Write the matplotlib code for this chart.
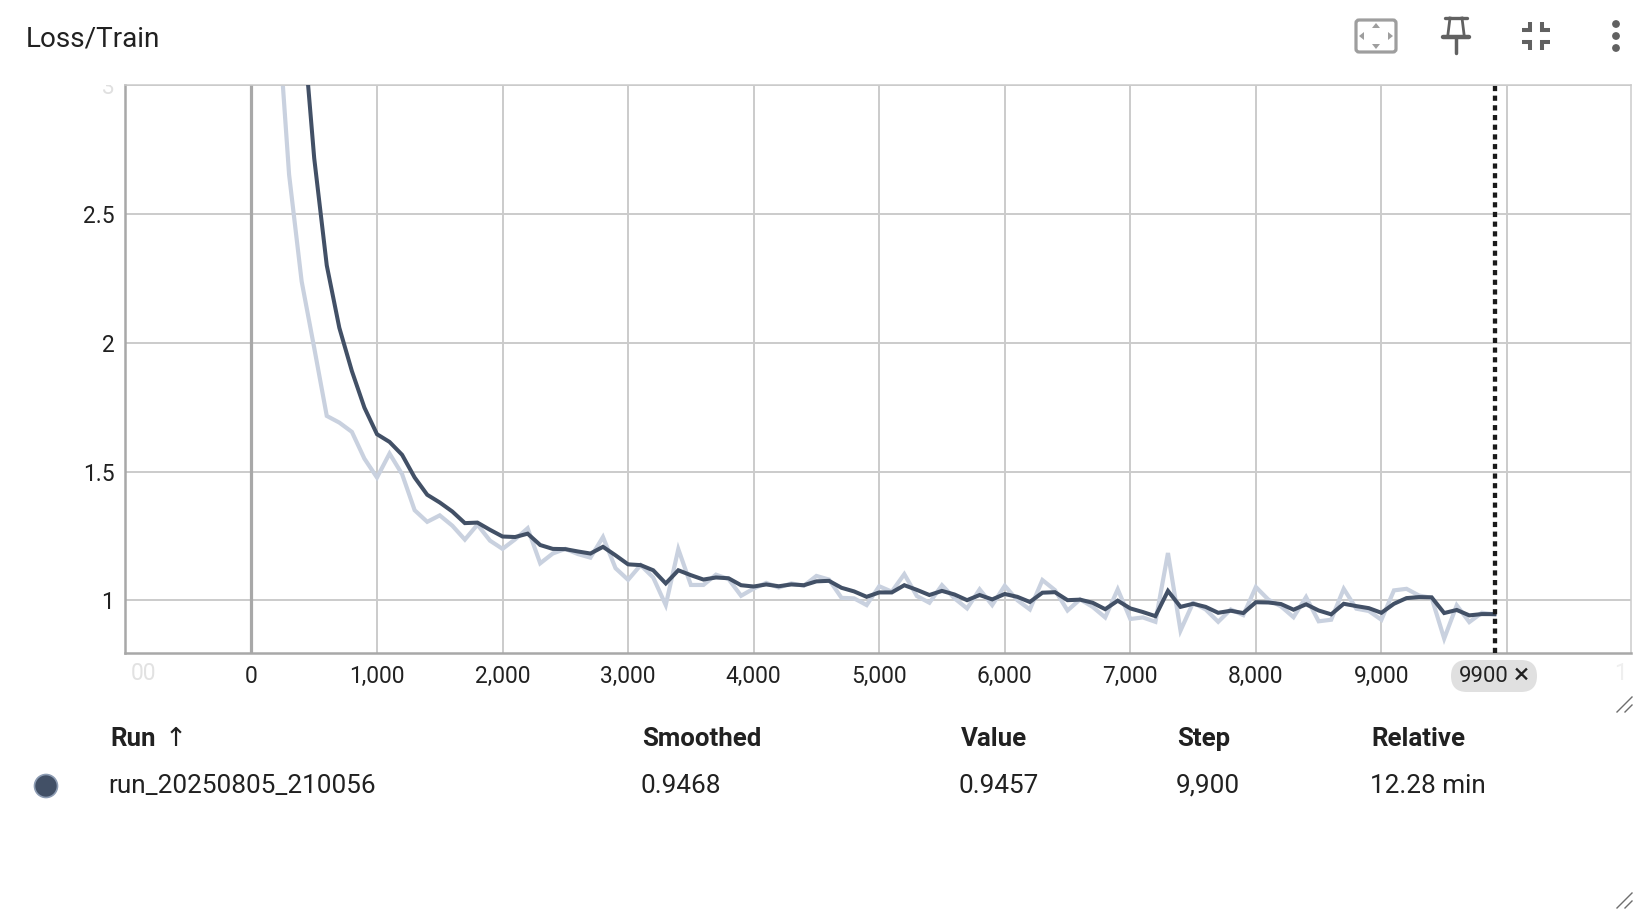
import numpy as np
import matplotlib
matplotlib.use("Agg")
import matplotlib.pyplot as plt
from matplotlib.patches import FancyBboxPatch, Polygon, Circle
from matplotlib.transforms import Bbox

plt.rcParams['font.family'] = ['Roboto', 'DejaVu Sans']

W, H = 1652, 914

steps = list(range(0, 10000, 100))

raw = [6.0, 4.6, 3.35, 2.652, 2.238, 1.98, 1.716, 1.69, 1.654, 1.55,
       1.477, 1.57, 1.49, 1.35, 1.305, 1.33, 1.29, 1.236, 1.294, 1.232,
       1.20, 1.237, 1.28, 1.144, 1.182, 1.20, 1.18, 1.166, 1.246, 1.125,
       1.08, 1.137, 1.089, 0.982, 1.199, 1.06, 1.06, 1.10, 1.083, 1.018,
       1.046, 1.068, 1.05, 1.066, 1.057, 1.095, 1.081, 1.01, 1.008, 0.982,
       1.055, 1.034, 1.102, 1.017, 0.991, 1.059, 1.008, 0.969, 1.043, 0.982,
       1.057, 1.001, 0.965, 1.079, 1.04, 0.961, 1.004, 0.975, 0.934, 1.043,
       0.928, 0.934, 0.917, 1.184, 0.883, 0.991, 0.965, 0.917, 0.965, 0.943,
       1.052, 1.003, 0.977, 0.935, 1.013, 0.919, 0.925, 1.045, 0.968, 0.959,
       0.925, 1.039, 1.045, 1.019, 1.01, 0.852, 0.981, 0.916, 0.952, 0.9457]

smoothed = [6.0, 5.4, 4.7, 3.95, 3.3, 2.716, 2.30, 2.058, 1.89, 1.748,
            1.645, 1.615, 1.565, 1.477, 1.41, 1.38, 1.345, 1.30, 1.302, 1.274,
            1.248, 1.246, 1.259, 1.215, 1.20, 1.199, 1.19, 1.182, 1.208, 1.175,
            1.14, 1.137, 1.117, 1.066, 1.117, 1.098, 1.081, 1.089, 1.086, 1.059,
            1.054, 1.062, 1.055, 1.062, 1.059, 1.074, 1.076, 1.049, 1.035, 1.014,
            1.031, 1.031, 1.059, 1.041, 1.021, 1.037, 1.023, 1.001, 1.021, 1.004,
            1.025, 1.014, 0.994, 1.03, 1.032, 1.001, 1.003, 0.991, 0.966, 0.999,
            0.969, 0.955, 0.939, 1.037, 0.975, 0.987, 0.975, 0.952, 0.96, 0.951,
            0.993, 0.992, 0.986, 0.964, 0.985, 0.961, 0.946, 0.987, 0.978, 0.97,
            0.952, 0.987, 1.009, 1.013, 1.012, 0.951, 0.963, 0.942, 0.947, 0.9468]

x_ticks = [0, 1000, 2000, 3000, 4000, 5000, 6000, 7000, 8000, 9000, 10000]
x_labels = ['0', '1,000', '2,000', '3,000', '4,000', '5,000', '6,000',
            '7,000', '8,000', '9,000', '']
y_ticks = [1, 1.5, 2, 2.5, 3]
y_labels = ['1', '1.5', '2', '2.5', '3']

title = 'Loss/Train'
run_name = 'run_20250805_210056'
columns = ['Smoothed', 'Value', 'Step', 'Relative']
row = ['0.9468', '0.9457', '9,900', '12.28 min']
cursor_step = 9900

DARK = '#425066'
LIGHT = '#c9d1df'
TEXT = '#212121'
GRID = '#cbcbcb'
AXIS = '#a8a8a8'

fig = plt.figure(figsize=(W / 100, H / 100), dpi=100, facecolor='white')

# plot area, pixel box
left, right, top, bottom = 124.7, 1631, 85, 653
ax = fig.add_axes([left / W, 1 - bottom / H, (right - left) / W, (bottom - top) / H])
ax.set_xlim(-1009.4, 10988)
ax.set_ylim(0.796, 2.993)

ax.set_xticks(x_ticks)
ax.set_xticklabels(x_labels)
ax.set_yticks(y_ticks)
ax.set_yticklabels(y_labels)
ax.tick_params(axis='both', length=0, labelsize=16.4, labelcolor=TEXT)
ax.tick_params(axis='x', pad=8.5)
ax.tick_params(axis='y', pad=7.5)
ax.grid(True, color=GRID, linewidth=1.4)
ax.set_axisbelow(True)

for side in ['top', 'right']:
    ax.spines[side].set_color(GRID)
    ax.spines[side].set_linewidth(1.1)
for side in ['left', 'bottom']:
    ax.spines[side].set_color(AXIS)
    ax.spines[side].set_linewidth(1.8)

ax.axvline(0, color=AXIS, linewidth=2.3, zorder=1.5)
ax.plot(steps, raw, color=LIGHT, linewidth=3.0, solid_joinstyle='miter', zorder=2)
ax.plot(steps, smoothed, color=DARK, linewidth=2.9, solid_joinstyle='miter', zorder=3)
ax.axvline(cursor_step + 5, color='#1a1a1a', linewidth=3.1, linestyle=(0, (1.2, 1.05)), zorder=4)

# the top tick label fades out and is cut by the plot box
yl = ax.get_yticklabels()
yl[-1].set_color('#e0e0e0')
yl[-1].set_clip_box(Bbox.from_extents(60, H - 120, 125, H - top))
yl[-1].set_clip_on(True)

# header, chip and table sit on a full-size overlay in pixel coordinates
ov = fig.add_axes([0, 0, 1, 1], zorder=5)
ov.set_xlim(0, W)
ov.set_ylim(H, 0)
ov.axis('off')
ov.patch.set_alpha(0)

ov.text(26, 38.5, title, fontsize=20.1, color=TEXT, va='center', ha='left')

# faded labels at both ends of the x axis
ov.text(144, 674, '00', fontsize=16.4, color='#e2e2e2', va='center', ha='center')
ov.text(1620, 674, '1', fontsize=16.4, color='#efefef', va='center', ha='center')

# fit-domain icon
ov.add_patch(FancyBboxPatch((1356, 20), 40, 32, boxstyle='round,pad=0,rounding_size=3',
                            fc='none', ec='#9e9e9e', lw=2.3))
ov.add_patch(Polygon([[1376, 23], [1372, 28], [1380, 28]], fc='#9e9e9e', ec='none'))
ov.add_patch(Polygon([[1376, 49], [1372, 44], [1380, 44]], fc='#9e9e9e', ec='none'))
ov.add_patch(Polygon([[1359, 36], [1364, 32], [1364, 40]], fc='#9e9e9e', ec='none'))
ov.add_patch(Polygon([[1393, 36], [1388, 32], [1388, 40]], fc='#9e9e9e', ec='none'))

# pin icon
ICON = '#616161'
ov.plot([1445, 1467], [17.5, 17.5], color=ICON, lw=2.4, solid_capstyle='round')
ov.plot([1450, 1448], [18, 34], color=ICON, lw=2.0)
ov.plot([1462, 1464], [18, 34], color=ICON, lw=2.0)
ov.plot([1443, 1469], [37, 37], color=ICON, lw=3.2, solid_capstyle='round')
ov.plot([1456, 1456], [38, 53], color=ICON, lw=2.5, solid_capstyle='round')

# compress icon
for cx, cy, dx, dy in [(1530, 30, -1, -1), (1542, 30, 1, -1), (1530, 42, -1, 1), (1542, 42, 1, 1)]:
    ov.plot([cx + dx * 8, cx, cx], [cy, cy, cy + dy * 8], color=ICON, lw=2.9,
            solid_joinstyle='miter', solid_capstyle='butt')

# menu dots
for cy in [24, 36, 48]:
    ov.add_patch(Circle((1616, cy), 3.9, fc=ICON, ec='none'))

# cursor chip
ov.add_patch(FancyBboxPatch((1451, 660), 86, 32, boxstyle='round,pad=0,rounding_size=16',
                            fc='#e0e0e0', ec='none'))
ov.text(1459, 676.5, '9900', fontsize=15.8, color=TEXT, va='center', ha='left')
ov.text(1514, 675.5, '×', fontsize=20.5, color=TEXT, va='center', ha='left')

# resize handles
for hx, hy in [(1632, 712), (1632, 908)]:
    ov.plot([hx - 15, hx], [hy, hy - 15], color='#6e6e6e', lw=1.0)
    ov.plot([hx - 7, hx], [hy, hy - 7], color='#6e6e6e', lw=1.0)

# table
ov.text(110.5, 739, 'Run', fontsize=18.6, fontweight='bold', color=TEXT, va='center', ha='left')
ov.text(164.5, 739, '↑', fontsize=19, color=TEXT, va='center', ha='left')
for label, x in zip(columns, [642, 960.5, 1177.5, 1371.5]):
    ov.text(x, 739, label, fontsize=18.6, fontweight='bold', color=TEXT, va='center', ha='left')

ov.add_patch(Circle((46, 786), 11.5, fc=DARK, ec='#8d9cb3', lw=1.2))
ov.text(108.5, 786, run_name, fontsize=18.8, color=TEXT, va='center', ha='left')
for label, x in zip(row, [640.5, 959, 1176, 1370]):
    ov.text(x, 786, label, fontsize=18.8, color=TEXT, va='center', ha='left')

fig.savefig('out.png', dpi=100, facecolor='white')
